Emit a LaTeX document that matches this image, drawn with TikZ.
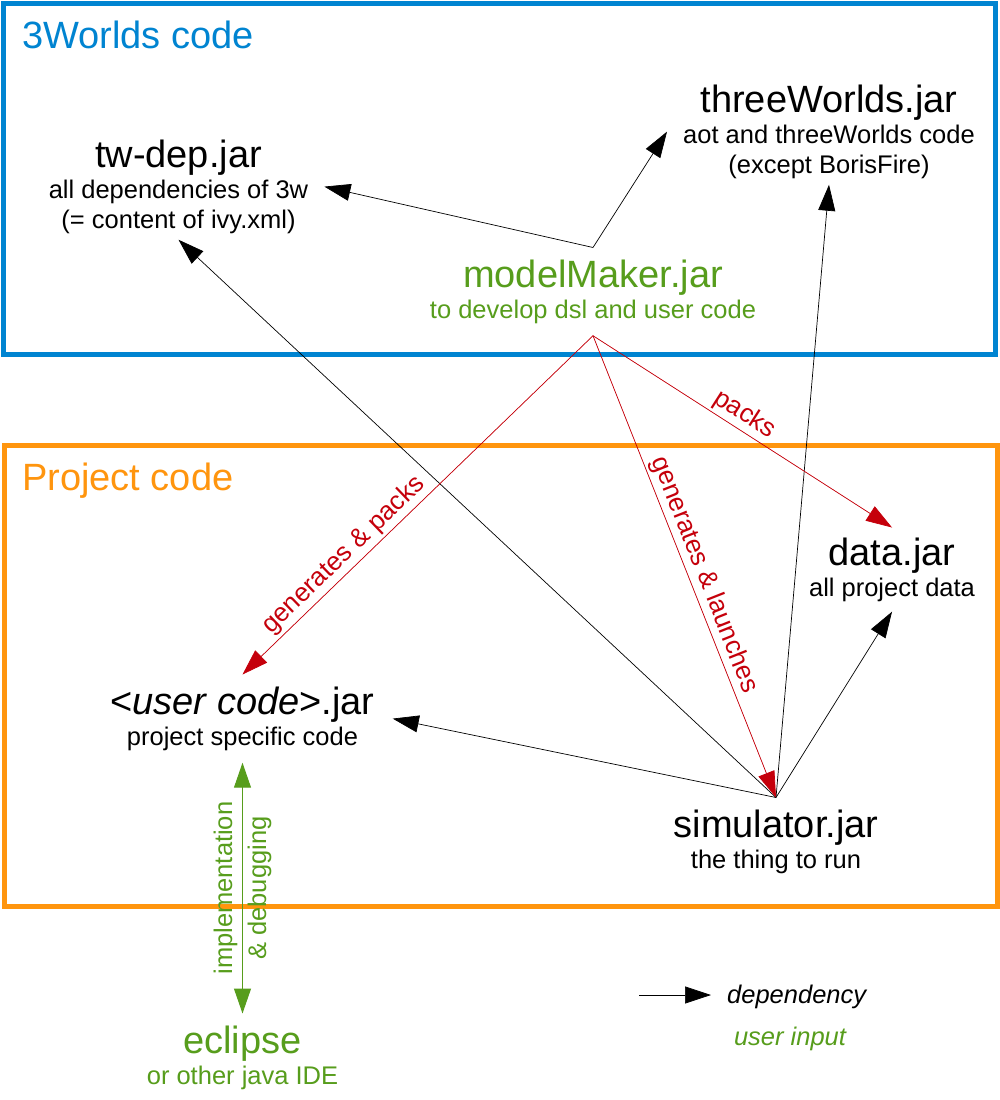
\documentclass[tikz,border=0pt]{standalone}
\usepackage{fontspec}
\setmainfont{Liberation Sans}
\usetikzlibrary{arrows.meta}
\definecolor{lblue}{HTML}{0084D1}
\definecolor{lorange}{HTML}{FF950E}
\definecolor{lgreen}{HTML}{579D1C}
\definecolor{lred}{HTML}{C5000B}
\newcommand{\comptitle}[1]{{\fontsize{38}{30}\selectfont #1}\\[1pt]}
\begin{document}
\begin{tikzpicture}[x=1pt,y=-1pt,
  comp/.style={align=center, font=\fontsize{25.5}{30}\selectfont, anchor=north, inner xsep=6pt, inner ysep=12pt},
  dep/.style={-{Triangle[length=26pt,width=17pt]}, line width=0.7pt, draw=black},
  gen/.style={-{Triangle[length=26pt,width=17pt]}, line width=0.7pt, draw=lred, fill=lred},
  usr/.style={{Triangle[length=25pt,width=17pt]}-{Triangle[length=25pt,width=17pt]}, line width=1pt, draw=lgreen, fill=lgreen},
  lbl/.style={font=\fontsize{26}{30}\selectfont, text=lred, sloped, above, inner sep=3pt},
  frame/.style={line width=5pt},
  boxtitle/.style={font=\fontsize{38}{42}\selectfont, anchor=base west, inner sep=0pt},
  legtext/.style={font=\fontsize{25.5}{30}\selectfont\itshape, inner sep=0pt}]
\useasboundingbox (0,0) rectangle (1000,1100);
\fill[white] (0,0) rectangle (1000,1100);
% frames
\draw[frame, lblue] (3.5,3.5) rectangle (995,354);
\draw[frame, lorange] (4,445.5) rectangle (997,906);
\node[boxtitle, text=lblue] (t3w) at (22,48) {3Worlds code};
\node[boxtitle, text=lorange] (tproj) at (22,490) {Project code};
% components
\node[comp, inner ysep=6pt, inner xsep=16pt] (twdep) at (178.5,133.5)
  {\comptitle{tw-dep.jar}all dependencies of 3w\\(= content of ivy.xml)};
\node[comp, inner ysep=6pt, inner xsep=16pt] (tw) at (829,78.5)
  {\comptitle{threeWorlds.jar}aot and threeWorlds code\\(except BorisFire)};
\node[comp, text=lgreen] (mm) at (593,247.5)
  {\comptitle{modelMaker.jar}to develop dsl and user code};
\node[comp, inner ysep=10pt] (data) at (892,527.5)
  {\comptitle{data.jar}all project data};
\node[comp, inner xsep=18pt] (uc) at (242.5,674.5)
  {\comptitle{<\textit{user code}>.jar}project specific code};
\node[comp] (sim) at (776,797.5)
  {\comptitle{simulator.jar}the thing to run};
\node[comp, text=lgreen] (ecl) at (242.5,1013.5)
  {\comptitle{eclipse}or other java IDE};
% dependencies
\draw[dep] (mm.north) -- (twdep.east);
\draw[dep] (mm.north) -- (tw.west);
\draw[dep] (sim.north) -- (twdep.south);
\draw[dep] (sim.north) -- (tw.south);
\draw[dep] (sim.north) -- (data.south);
\draw[dep] (sim.north) -- (uc.east);
% generation
\draw[gen] (mm.south) -- node[lbl, pos=0.68] (lgp) {generates \& packs} (uc.north);
\draw[gen] (mm.south) -- node[lbl, pos=0.53] (lgl) {generates \& launches} (sim.north);
\draw[gen] (mm.south) -- node[lbl, pos=0.48] (lpk) {packs} (data.north);
% user input
\draw[usr] (uc.south) -- node[midway, rotate=90, align=center, text=lgreen, font=\fontsize{25.5}{30}\selectfont, inner sep=0pt] (limpl) {implementation\\[4pt]\& debugging} (ecl.north);
% legend
\coordinate (legA) at (639,995);
\coordinate (legB) at (711,995);
\draw[dep] (legA) -- (legB);
\node[legtext, anchor=base west] (legdep) at (727,1003) {dependency};
\node[legtext, anchor=base, text=lgreen] (leguser) at (790,1045) {user input};
\end{tikzpicture}
\end{document}
